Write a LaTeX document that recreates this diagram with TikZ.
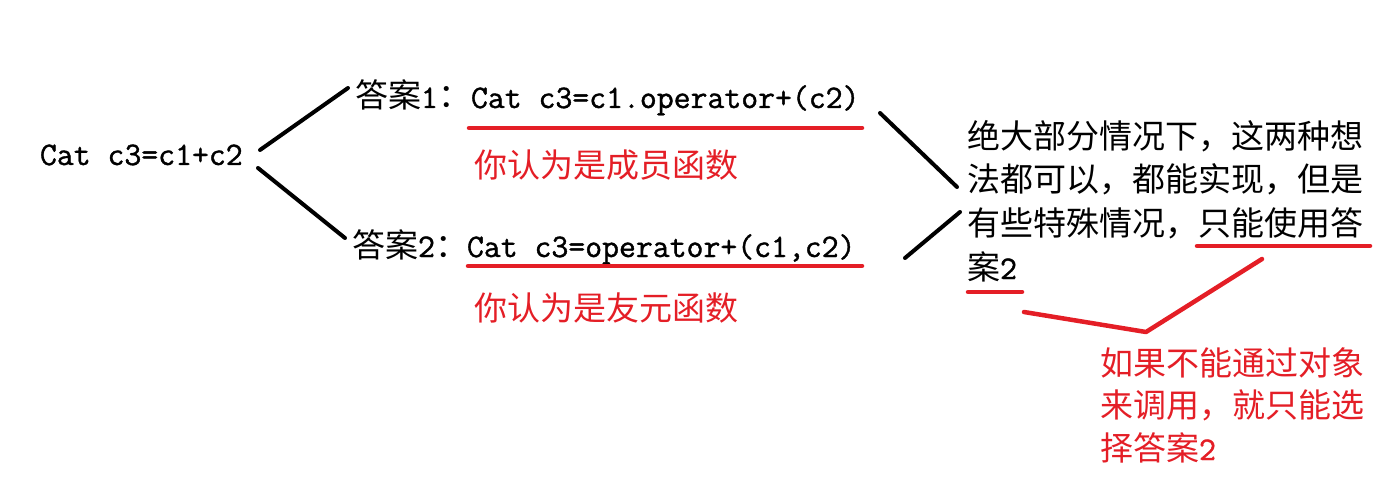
\documentclass[tikz,border=0pt]{standalone}
\usepackage{fontspec}
\newfontfamily\cjk{Noto Sans CJK SC}
\newfontfamily\code[FakeBold=1.2]{Latin Modern Mono}
\definecolor{mred}{RGB}{228,30,38}
\begin{document}
\begin{tikzpicture}[x=1pt,y=-1pt,
  txt/.style={anchor=base west,inner sep=0pt,outer sep=0pt},
  cj/.style={txt,font=\cjk\fontsize{33}{40}\selectfont},
  cd/.style={txt,font=\code\fontsize{32.8}{40}\selectfont},
  rtxt/.style={cj,text=mred},
  blk/.style={line width=4pt,line cap=round,black},
  rln/.style={line width=4.5pt,line cap=round,line join=round,mred}]
\useasboundingbox (0,0) rectangle (1391,481);
% left
\node[cd] (root) at (40,165) {Cat c3=c1+c2};
% answer 1
\node[cj] (a1) at (355,108) {答案{\code 1}：};
\node[cd] (c1) at (471,108) {Cat c3=c1.operator+(c2)};
\node[rtxt] (r1) at (474,178) {你认为是成员函数};
% answer 2
\node[cj] (a2) at (352,257) {答案{\code 2}：};
\node[cd] (c2) at (467,257) {Cat c3=operator+(c1,c2)};
\node[rtxt] (r2) at (474,320) {你认为是友元函数};
% right block
\node[cj] (t1) at (967,149) {绝大部分情况下，这两种想};
\node[cj] (t2) at (967,192) {法都可以，都能实现，但是};
\node[cj] (t3) at (967,235) {有些特殊情况，只能使用答};
\node[cj] (t4) at (967,279) {案{\code 2}};
% red note
\node[rtxt] (n1) at (1100,375) {如果不能通过对象};
\node[rtxt] (n2) at (1100,417) {来调用，就只能选};
\node[rtxt] (n3) at (1100,460) {择答案{\code 2}};
% connector coordinates
\coordinate (l1a) at (260,150); \coordinate (l1b) at (348,88);
\coordinate (l2a) at (258,168); \coordinate (l2b) at (345,238);
\coordinate (l3a) at (880,113); \coordinate (l3b) at (957,187);
\coordinate (l4a) at (905,258); \coordinate (l4b) at (960,212);
\draw[blk] (l1a) -- (l1b);
\draw[blk] (l2a) -- (l2b);
\draw[blk] (l3a) -- (l3b);
\draw[blk] (l4a) -- (l4b);
% underlines
\coordinate (u1a) at (469,128); \coordinate (u1b) at (862,128);
\coordinate (u2a) at (468,266); \coordinate (u2b) at (862,266);
\coordinate (u3a) at (1197,246); \coordinate (u3b) at (1370,246);
\coordinate (u4a) at (968,292); \coordinate (u4b) at (1022,292);
\draw[rln] (u1a) -- (u1b);
\draw[rln] (u2a) -- (u2b);
\draw[rln] (u3a) -- (u3b);
\draw[rln] (u4a) -- (u4b);
% V pointer
\coordinate (v1) at (1024,312); \coordinate (v2) at (1146,332); \coordinate (v3) at (1262,259);
\draw[rln] (v1) -- (v2) -- (v3);
\end{tikzpicture}
\end{document}
